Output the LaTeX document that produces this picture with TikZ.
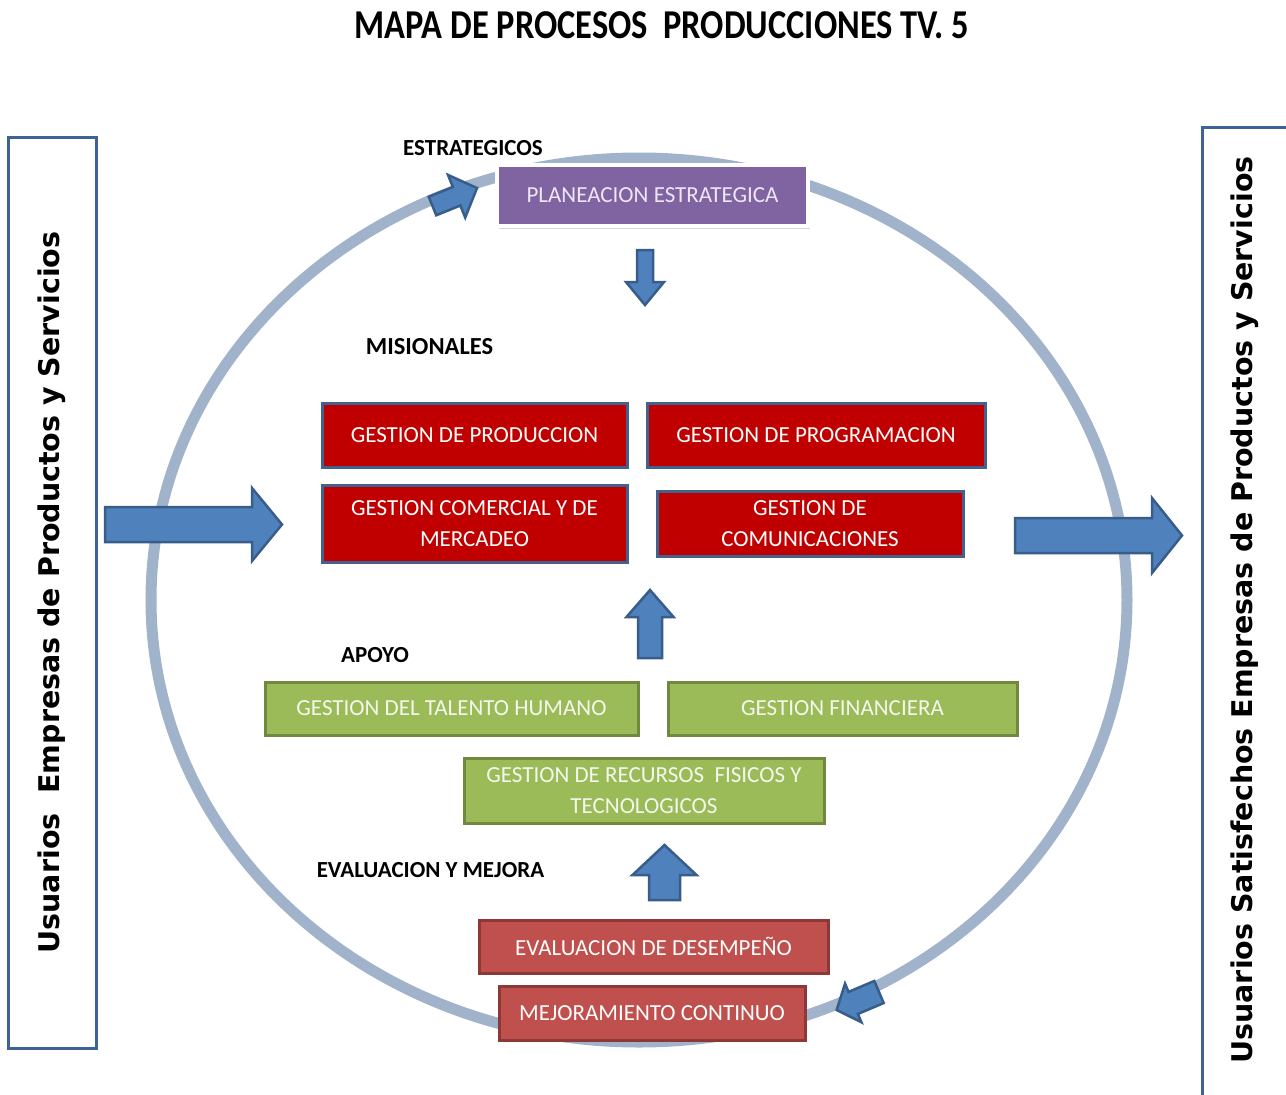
\documentclass[tikz,border=0pt]{standalone}
\usepackage{fontspec}
\setmainfont{Carlito}
\newfontfamily\vfont{DejaVu Sans Bold}
\usetikzlibrary{shadows}
\definecolor{cRed}{HTML}{C00000}
\definecolor{cRedB}{HTML}{41618F}
\definecolor{cGreen}{HTML}{9BBB59}
\definecolor{cGreenB}{HTML}{71893F}
\definecolor{cGreenT}{HTML}{F4F7EC}
\definecolor{cEval}{HTML}{C0504D}
\definecolor{cEvalB}{HTML}{8C3836}
\definecolor{cPurple}{HTML}{8064A2}
\definecolor{cPurpleT}{HTML}{EDE6F5}
\definecolor{cArrow}{HTML}{4F81BD}
\definecolor{cArrowB}{HTML}{385D8A}
\definecolor{cRing}{HTML}{A0B3CB}
\definecolor{cSide}{HTML}{3E6397}
\newcommand{\blockarrow}[7]{%
  \begin{scope}[shift={(#1,#2)},rotate=#3]
    \draw[blk] (0,-#5) -- ({#4-#7},-#5) -- ({#4-#7},-#6) -- (#4,0) -- ({#4-#7},#6) -- ({#4-#7},#5) -- (0,#5) -- cycle;
  \end{scope}}
\begin{document}
\begin{tikzpicture}[x=1pt,y=-1pt,
  pbox/.style={draw, line width=3pt, text=white, align=center, inner sep=0pt,
    font=\fontsize{23}{31}\selectfont},
  redbox/.style={pbox, fill=cRed, draw=cRedB},
  greenbox/.style={pbox, fill=cGreen, draw=cGreenB, text=cGreenT},
  evalbox/.style={pbox, fill=cEval, draw=cEvalB},
  purplebox/.style={pbox, fill=cPurple, draw=white, line width=4pt, text=cPurpleT,
    drop shadow={shadow xshift=2pt, shadow yshift=-3pt, opacity=0.3}},
  lbl/.style={font=\bfseries\fontsize{23}{23}\selectfont, inner sep=0pt},
  blk/.style={fill=cArrow, draw=cArrowB, line width=2.5pt, line join=miter},
  side/.style={draw=cSide, line width=3pt, fill=white, inner sep=0pt},
  vtxt/.style={rotate=90, font=\vfont\fontsize{28.5}{28.5}\selectfont, inner sep=0pt},
]
\useasboundingbox (0,0) rectangle (1286,1095);
\fill[white] (0,0) rectangle (1286,1095);
\clip (0,0) rectangle (1286,1095);

% title
\node[font=\bfseries\fontsize{41}{41}\selectfont, inner sep=0pt] (title) at (662,25) {\scalebox{0.84}[1]{MAPA DE PROCESOS\ \ PRODUCCIONES TV. 5}};

% side boxes
\node[side, minimum width=88, minimum height=911] (lbox) at (52,592.5) {};
\node[vtxt] (ltxt) at (lbox.center) {Usuarios\hspace{0.7em}Empresas de Productos y Servicios};
\node[side, anchor=north west, minimum width=130, minimum height=1000] (rbox) at (1201,126) {};
\node[vtxt] (rtxt) at (1245,610) {Usuarios Satisfechos Empresas de Productos y Servicios};

% ring
\draw[cRing, line width=11pt] (639,600) ellipse [x radius=488, y radius=442];

% block arrows: tail x, tail y, angle, length, shaft half width, head half width, head length
\blockarrow{432.5}{206}{22}{48}{10}{23}{22}
\blockarrow{645}{250}{-90}{55}{8}{19}{23}
\blockarrow{650}{658}{90}{68}{12}{23.5}{27}
\blockarrow{664.5}{900}{90}{55}{15.5}{32}{30}
\blockarrow{879}{992}{203}{46}{12}{21}{18}
\blockarrow{105}{524.5}{0}{177}{17.5}{36.5}{30}
\blockarrow{1015}{535.5}{0}{167}{17.5}{37.5}{30}

% labels
\node[lbl] (lest) at (473,148) {ESTRATEGICOS};
\node[lbl, font=\bfseries\fontsize{24.5}{24.5}\selectfont] (lmis) at (429.5,347) {MISIONALES};
\node[lbl] (lapo) at (375,655) {APOYO};
\node[lbl] (leva) at (430.5,870) {EVALUACION Y MEJORA};

% boxes
\node[purplebox, minimum width=311, minimum height=61] (plan) at (652.5,195.5) {PLANEACION ESTRATEGICA};
\node[redbox, minimum width=305, minimum height=64] (prod) at (474.5,435) {GESTION DE PRODUCCION};
\node[redbox, minimum width=338, minimum height=64] (prog) at (816,435) {GESTION DE PROGRAMACION};
\node[redbox, minimum width=305, minimum height=77] (com) at (474.5,523.5) {GESTION COMERCIAL Y DE\\MERCADEO};
\node[redbox, minimum width=306, minimum height=65] (comu) at (810,523.5) {GESTION DE\\COMUNICACIONES};
\node[greenbox, minimum width=373, minimum height=53] (tal) at (451.5,708.5) {GESTION DEL TALENTO HUMANO};
\node[greenbox, minimum width=349, minimum height=53] (fin) at (842.5,708.5) {GESTION FINANCIERA};
\node[greenbox, minimum width=360, minimum height=65] (rec) at (644,790.5) {GESTION DE RECURSOS\ \ FISICOS Y\\TECNOLOGICOS};
\node[evalbox, minimum width=349, minimum height=53] (eval) at (653.5,946.5) {EVALUACION DE DESEMPEÑO};
\node[evalbox, minimum width=306, minimum height=54] (mej) at (652,1013) {MEJORAMIENTO CONTINUO};
\end{tikzpicture}
\end{document}
